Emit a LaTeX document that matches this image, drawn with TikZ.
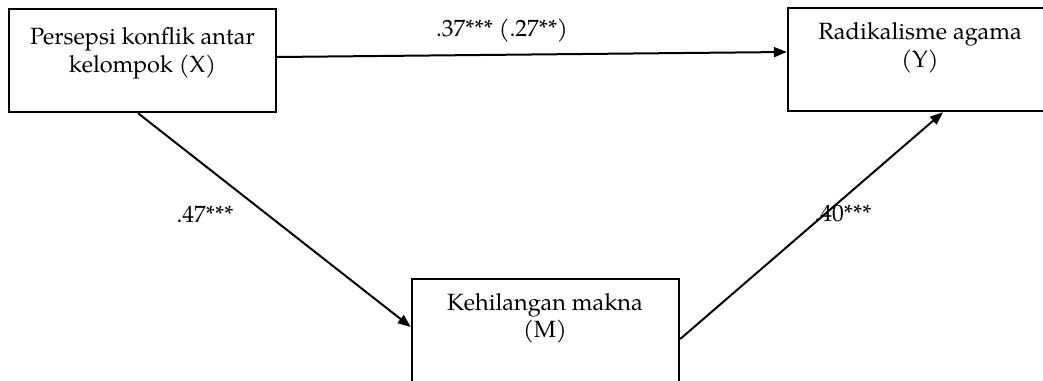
\documentclass[tikz,border=0pt]{standalone}
\usepackage{fontspec}
\setmainfont{TeX Gyre Pagella}
\usetikzlibrary{arrows.meta,calc}
\begin{document}
\begin{tikzpicture}[x=1pt,y=1pt,
  box/.style={draw=black, line width=2.4pt, rectangle, minimum width=267pt, minimum height=103pt, inner sep=0pt},
  boxtext/.style={anchor=base, align=center, inner sep=0pt, font=\fontsize{23.5}{28}\selectfont},
  lbl/.style={anchor=base, inner sep=0pt, font=\fontsize{23.5}{28}\selectfont},
  arr/.style={line width=2pt, -{Triangle[length=13pt,width=10pt]}}]
\useasboundingbox (0,0) rectangle (1043,380);
\clip (0,0) rectangle (1043,380);
\node[box] (X) at (142.5,319.5) {};
\node[box, minimum width=264pt] (Y) at (920,320.5) {};
\node[box] (M) at (545.5,49.5) {};
\node[boxtext] (xt) at (142.5,307) {Persepsi konflik antar\\kelompok (X)};
\node[boxtext] (yt) at (920,312) {Radikalisme agama\\(Y)};
\node[boxtext] (mt) at (545,42) {Kehilangan makna\\(M)};
\draw[arr] ([yshift=3.5pt]X.east) -- ([yshift=7.5pt]Y.west);
\draw[arr] ([xshift=-4.5pt]X.south) -- ([yshift=3.5pt]M.west);
\draw[arr] ([yshift=-8.5pt]M.east) -- ([xshift=23pt]Y.south);
\node[lbl] (l1) at (502,343) {.37*** (.27**)};
\node[lbl] (l2) at (205,157) {.47***};
\node[lbl] (l3) at (843,158) {.40***};
\end{tikzpicture}
\end{document}
